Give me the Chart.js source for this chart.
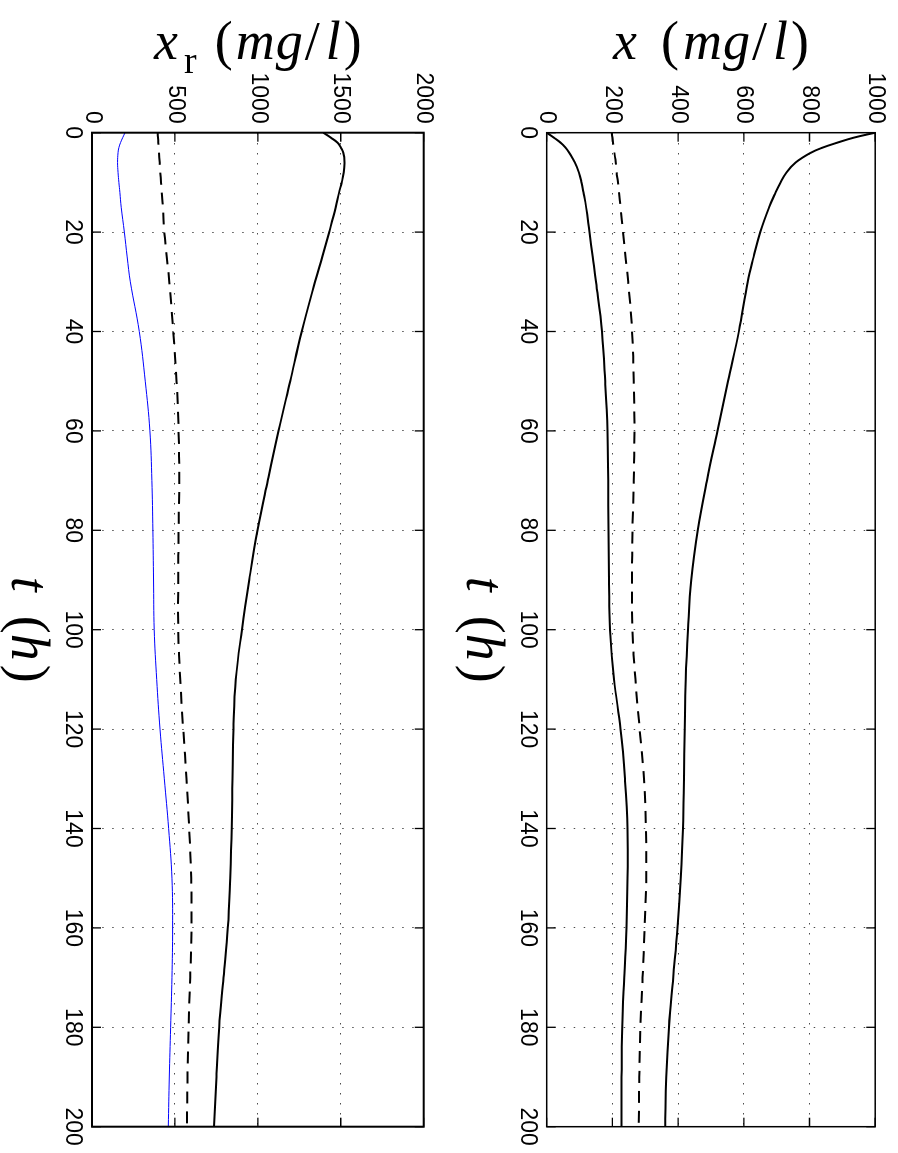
<!DOCTYPE html>
<html lang="en">
<head>
<meta charset="UTF-8">
<title>x and x_r versus t</title>
<script src="https://cdn.jsdelivr.net/npm/chart.js"></script>
<style>
  html, body { margin: 0; padding: 0; background: #fff; overflow: hidden; }
  /* the figure is drawn landscape and turned a quarter turn clockwise */
  #figure {
    position: absolute; left: 0; top: 0;
    width: 1153px; height: 898px;
    transform-origin: 0 0;
    transform: translate(898px, 0) rotate(90deg);
    background: #fff;
  }
  canvas { display: block; }
</style>
</head>
<body>
<div id="figure">
  <canvas id="topChart" width="1153" height="449"></canvas>
  <canvas id="bottomChart" width="1153" height="449"></canvas>
</div>
<script>
// time axis (h)
const tHours = [0,1,2,3,4,6,8,10,12,15,20,25,30,40,50,60,70,80,90,100,110,120,130,140,150,160,170,180,190,200];
const tTicks = [0,20,40,60,80,100,120,140,160,180,200];

// top panel: x (mg/l)
const xTicks = [0,200,400,600,800,1000];
const xUpper = [1000,935,885,840,805,758,730,712,697,677,650,630,612,585,552,520,488,460,440,430,423,420,418,415,408,398,385,372,364,361];
const xLower = [0,22,42,57,68,86,98,106,112,120,130,140,150,168,178,185,187,188,190,193,205,225,238,246,246,243,236,230,228,228];
const xDashed = [198,200,202,204,206,210,213,217,220,225,232,240,248,260,265,267,265,261,260,261,270,283,296,302,303,298,292,285,282,280];

// bottom panel: x_r (mg/l)
const xrTicks = [0,500,1000,1500,2000];
const xrUpper = [1395,1440,1480,1500,1515,1522,1518,1506,1490,1470,1430,1388,1345,1265,1195,1125,1060,998,948,904,867,853,847,843,833,819,793,767,751,736];
const xrDashed = [396,398,400,402,404,408,412,416,420,428,436,451,466,490,510,522,526,522,520,520,532,550,570,586,598,600,592,582,576,572];
const xrBlue = [199,185,172,162,157,154,157,162,168,176,195,212,231,285,321,349,361,367,371,375,390,410,436,462,482,486,482,474,466,460];

const tickFont = { family: '"Liberation Sans", Arial, sans-serif', size: 23 };
const serif = '"Liberation Serif", "Times New Roman", serif';

function pts(vals) {
    return tHours.map((t, i) => ({ x: t, y: vals[i] }));
}

function solid(vals) {
    return { data: pts(vals), borderColor: '#000', borderWidth: 2, pointRadius: 0, tension: 0.4 };
}
function dashed(vals) {
    return { data: pts(vals), borderColor: '#000', borderWidth: 2, borderDash: [12, 8], pointRadius: 0, tension: 0.4 };
}

// draws a row of text pieces (math style label), starting at x=0
function drawPieces(ctx, pieces, size) {
    let x = 0;
    pieces.forEach(p => {
        const s = p.size || size;
        ctx.font = (p.it ? 'italic ' : '') + s + 'px ' + serif;
        ctx.fillText(p.t, x, p.dy || 0);
        x += ctx.measureText(p.t).width + (p.gap || 0);
    });
    return x;
}
function piecesWidth(ctx, pieces, size) {
    let w = 0;
    pieces.forEach(p => {
        ctx.font = (p.it ? 'italic ' : '') + (p.size || size) + 'px ' + serif;
        w += ctx.measureText(p.t).width + (p.gap || 0);
    });
    return w;
}

const tTitle = [
    { t: 't', it: true, gap: 24 },
    { t: '(', gap: 0 },
    { t: 'h', it: true, gap: 4 },
    { t: ')' }
];

function makePanel(id, cfg) {
    const frame = {
        id: 'frame' + id,
        afterDatasetsDraw(chart) {
            const { ctx, chartArea: a, scales } = chart;
            ctx.save();
            ctx.setLineDash([]);
            ctx.strokeStyle = '#000';
            ctx.lineWidth = cfg.boxWidth;
            ctx.strokeRect(a.left, a.top, a.width, a.height);
            // inward ticks on all four sides
            const L = 9;
            ctx.lineWidth = 1.3;
            ctx.beginPath();
            tTicks.forEach(v => {
                const p = scales.x.getPixelForValue(v);
                ctx.moveTo(p, a.bottom); ctx.lineTo(p, a.bottom - L);
                ctx.moveTo(p, a.top); ctx.lineTo(p, a.top + L);
            });
            cfg.yTicks.forEach(v => {
                const p = scales.y.getPixelForValue(v);
                ctx.moveTo(a.left, p); ctx.lineTo(a.left + L, p);
                ctx.moveTo(a.right, p); ctx.lineTo(a.right - L, p);
            });
            ctx.stroke();

            // axis titles
            ctx.fillStyle = '#000';
            ctx.textBaseline = 'alphabetic';
            ctx.textAlign = 'left';
            const size = 54;
            const cx = (a.left + a.right) / 2;
            let w = piecesWidth(ctx, tTitle, size);
            ctx.save();
            ctx.translate(cx - w / 2, a.bottom + 80);
            drawPieces(ctx, tTitle, size);
            ctx.restore();

            const cy = (a.top + a.bottom) / 2;
            w = piecesWidth(ctx, cfg.yTitle, size);
            ctx.save();
            ctx.translate(a.left - 74, cy);
            ctx.rotate(-Math.PI / 2);
            ctx.translate(-w / 2, 0);
            drawPieces(ctx, cfg.yTitle, size);
            ctx.restore();
            ctx.restore();
        }
    };

    return new Chart(document.getElementById(id), {
        type: 'line',
        data: { datasets: cfg.datasets },
        options: {
            responsive: false,
            animation: false,
            events: [],
            layout: { padding: { top: cfg.padTop, right: 26.3, left: 0, bottom: 0 } },
            plugins: { legend: { display: false }, tooltip: { enabled: false } },
            scales: {
                x: {
                    type: 'linear', min: 0, max: 200,
                    afterBuildTicks: s => { s.ticks = tTicks.map(v => ({ value: v })); },
                    afterFit: s => { s.height = cfg.xAxisH; },
                    grid: { color: 'rgba(0,0,0,0.7)', lineWidth: 1, drawTicks: false },
                    border: { display: false, dash: [1.5, 8.5] },
                    ticks: { color: '#000', font: tickFont, padding: 6, maxRotation: 0, autoSkip: false, callback: v => String(v) }
                },
                y: {
                    type: 'linear', min: 0, max: cfg.yMax,
                    afterBuildTicks: s => { s.ticks = cfg.yTicks.map(v => ({ value: v })); },
                    afterFit: s => { s.width = 132.7; },
                    grid: { color: 'rgba(0,0,0,0.7)', lineWidth: 1, drawTicks: false },
                    border: { display: false, dash: [1.5, 8.5] },
                    ticks: { color: '#000', font: tickFont, padding: 9, autoSkip: false, callback: v => String(v) }
                }
            }
        },
        plugins: [frame]
    });
}

makePanel('topChart', {
    padTop: 19.7,
    xAxisH: 97.7,
    yMax: 1000,
    yTicks: xTicks,
    boxWidth: 1.5,
    yTitle: [
        { t: 'x', it: true, gap: 24 },
        { t: '(', gap: 4 },
        { t: 'm', it: true, gap: 1 },
        { t: 'g', it: true, gap: 2 },
        { t: '/', gap: 6 },
        { t: 'l', it: true, gap: 3 },
        { t: ')' }
    ],
    datasets: [solid(xUpper), solid(xLower), dashed(xDashed)]
});

makePanel('bottomChart', {
    padTop: 25.3,
    xAxisH: 92,
    yMax: 2000,
    yTicks: xrTicks,
    boxWidth: 2,
    yTitle: [
        { t: 'x', it: true, gap: 6 },
        { t: 'r', size: 38, dy: 14, gap: 18 },
        { t: '(', gap: 3 },
        { t: 'm', it: true, gap: 1 },
        { t: 'g', it: true, gap: 2 },
        { t: '/', gap: 6 },
        { t: 'l', it: true, gap: 3 },
        { t: ')' }
    ],
    datasets: [
        solid(xrUpper),
        dashed(xrDashed),
        { data: pts(xrBlue), borderColor: '#0000ff', borderWidth: 1, pointRadius: 0, tension: 0.4 }
    ]
});
</script>
</body>
</html>
